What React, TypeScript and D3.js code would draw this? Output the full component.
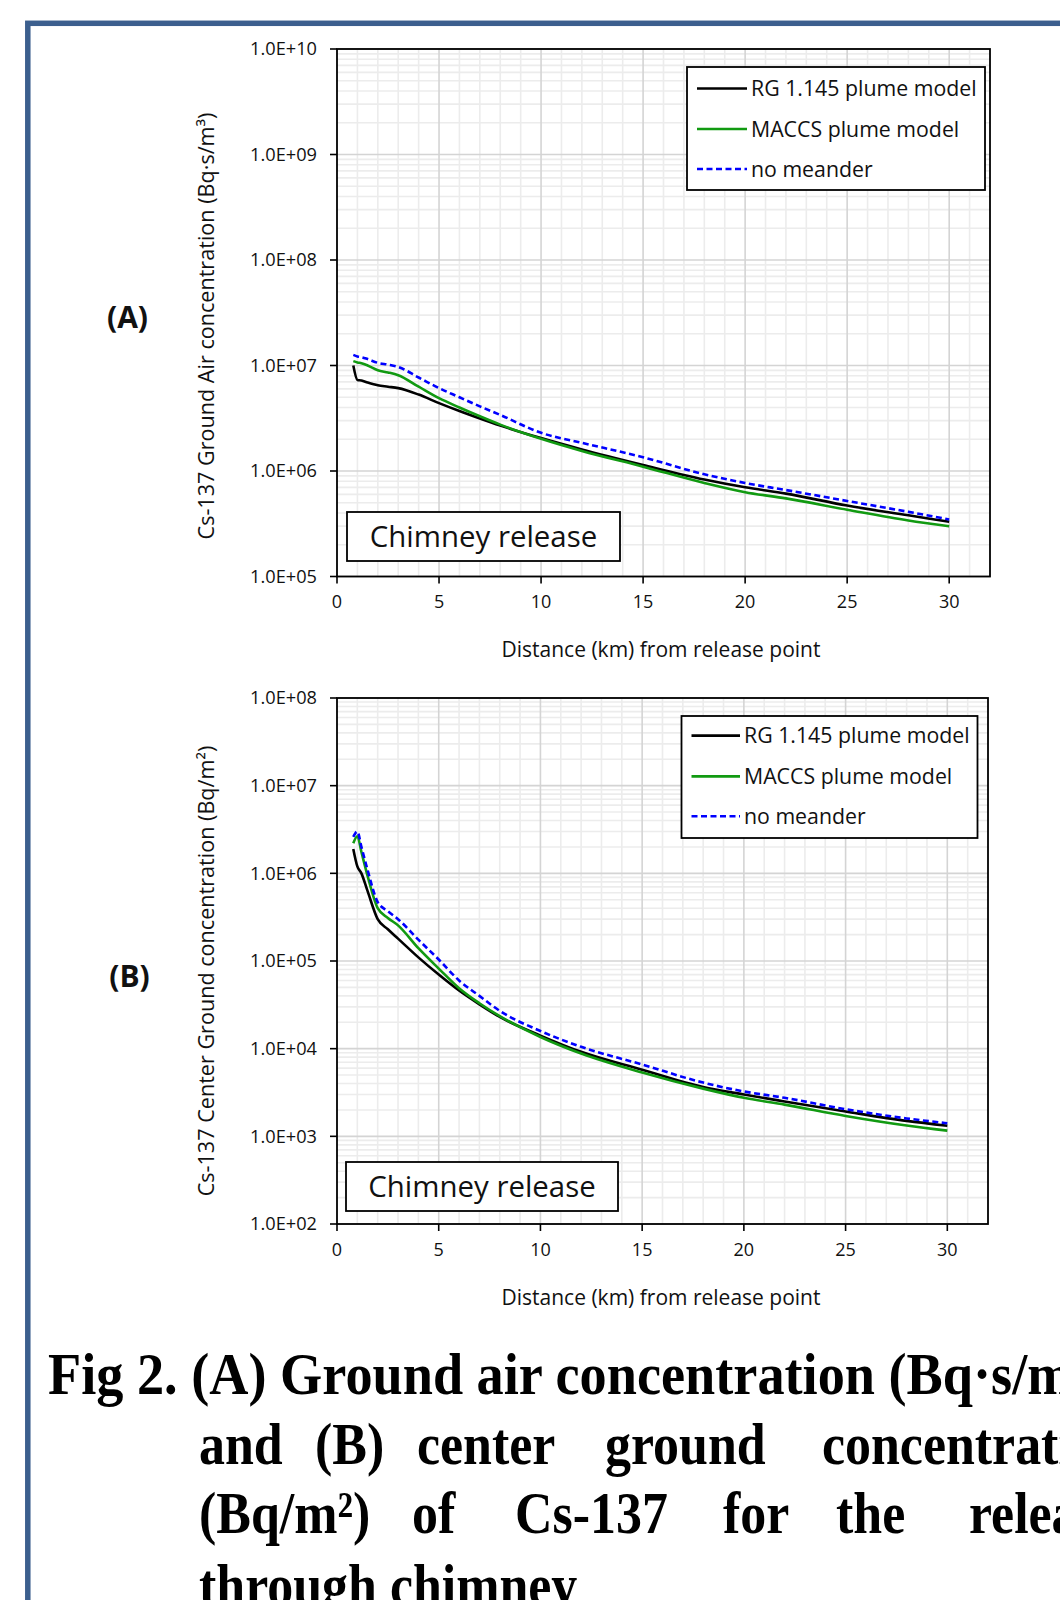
import * as d3 from "d3";
import React from "react";

// distances (km) shared by both panels
const distKm = [0.8, 1.0, 1.2, 1.5, 2, 2.5, 3, 4, 5, 6, 7, 8, 10, 12, 15, 18, 20, 22, 25, 28, 30];

// (A) ground air concentration, Bq·s/m3
const airRG = [1.0e7, 7.3e6, 7.2e6, 6.9e6, 6.5e6, 6.3e6, 6.1e6, 5.3e6, 4.4e6, 3.7e6, 3.15e6, 2.7e6, 2.05e6, 1.6e6, 1.14e6, 8.3e5, 7.0e5, 6.1e5, 4.7e5, 3.8e5, 3.3e5];
const airMACCS = [1.1e7, 1.07e7, 1.05e7, 1.0e7, 9.0e6, 8.6e6, 8.1e6, 6.3e6, 4.9e6, 4.0e6, 3.3e6, 2.75e6, 2.02e6, 1.55e6, 1.1e6, 7.7e5, 6.3e5, 5.5e5, 4.3e5, 3.4e5, 3.0e5];
const airNoMeander = [1.26e7, 1.22e7, 1.2e7, 1.15e7, 1.06e7, 1.02e7, 9.7e6, 7.7e6, 6.1e6, 5.0e6, 4.1e6, 3.4e6, 2.3e6, 1.85e6, 1.35e6, 9.3e5, 7.7e5, 6.6e5, 5.2e5, 4.1e5, 3.47e5];

// (B) center ground concentration, Bq/m2
const groundRG = [1.9e6, 1.2e6, 1.0e6, 6.3e5, 3.0e5, 2.3e5, 1.8e5, 1.1e5, 7.0e4, 4.6e4, 3.2e4, 2.3e4, 1.41e4, 9.2e3, 5.75e3, 3.65e3, 3.0e3, 2.5e3, 1.92e3, 1.5e3, 1.32e3];
const groundMACCS = [2.2e6, 2.65e6, 1.75e6, 9.4e5, 4.0e5, 3.1e5, 2.55e5, 1.4e5, 8.2e4, 4.9e4, 3.3e4, 2.35e4, 1.36e4, 8.8e3, 5.35e3, 3.5e3, 2.75e3, 2.3e3, 1.71e3, 1.33e3, 1.16e3];
const groundNoMeander = [2.6e6, 3.0e6, 2.0e6, 1.1e6, 4.7e5, 3.7e5, 3.0e5, 1.75e5, 1.04e5, 6.0e4, 4.0e4, 2.7e4, 1.59e4, 1.05e4, 6.6e3, 4.1e3, 3.25e3, 2.75e3, 2.04e3, 1.6e3, 1.41e3];

const seriesNames = ["RG 1.145 plume model", "MACCS plume model", "no meander"];
const xTicks = [0, 5, 10, 15, 20, 25, 30];

const FONT = "'Open Sans', sans-serif";
const SERIF = "'Liberation Serif', 'Times New Roman', serif";
const styles = [
  { stroke: "#000000", dash: undefined },
  { stroke: "#119a11", dash: undefined },
  { stroke: "#0000ff", dash: "6,3.5" },
];

function Panel(props) {
  const { p, values } = props;
  const x = d3.scaleLinear().domain([0, 32]).range([p.x0, p.x1]);
  const y = d3.scaleLog().domain(p.yDomain).range([p.y1, p.y0]);
  const lo = Math.round(Math.log10(p.yDomain[0]));
  const hi = Math.round(Math.log10(p.yDomain[1]));
  const decades = d3.range(lo, hi + 1);
  const minors = [];
  for (let e = lo; e < hi; e++) for (let m = 2; m <= 9; m++) minors.push(m * Math.pow(10, e));
  const kmMinor = d3.range(1, 32).filter((k) => k % 5 !== 0);

  const line = d3
    .line()
    .x((d) => x(d[0]))
    .y((d) => y(d[1]))
    .curve(d3.curveMonotoneX);

  return (
    <g>
      {/* minor grid */}
      {kmMinor.map((k) => (
        <line key={"vx" + k} x1={x(k)} x2={x(k)} y1={p.y0} y2={p.y1} stroke="#ececec" strokeWidth={1.6} />
      ))}
      {minors.map((v, i) => (
        <line key={"hm" + i} x1={p.x0} x2={p.x1} y1={y(v)} y2={y(v)} stroke="#ececec" strokeWidth={1.6} />
      ))}
      {/* major grid */}
      {xTicks.slice(1).map((k) => (
        <line key={"vX" + k} x1={x(k)} x2={x(k)} y1={p.y0} y2={p.y1} stroke="#d4d4d4" strokeWidth={1.6} />
      ))}
      {decades.map((e) => (
        <line key={"hM" + e} x1={p.x0} x2={p.x1} y1={y(Math.pow(10, e))} y2={y(Math.pow(10, e))} stroke="#d4d4d4" strokeWidth={1.6} />
      ))}

      {/* plot border / axes */}
      <rect x={p.x0} y={p.y0} width={p.x1 - p.x0} height={p.y1 - p.y0} fill="none" stroke="#000" strokeWidth={1.8} />

      {/* y ticks */}
      {decades.map((e) => {
        const yy = y(Math.pow(10, e));
        return (
          <g key={"yt" + e}>
            <line x1={p.x0 - 7} x2={p.x0} y1={yy} y2={yy} stroke="#000" strokeWidth={1.6} />
            <text x={317} y={yy} dy="0.35em" fontSize={18.2} textAnchor="end" fontFamily={FONT} fill="#111">
              {`1.0E+${String(e).padStart(2, "0")}`}
            </text>
          </g>
        );
      })}

      {/* x ticks */}
      {xTicks.map((k) => (
        <g key={"xt" + k}>
          <line x1={x(k)} x2={x(k)} y1={p.y1} y2={p.y1 + 7} stroke="#000" strokeWidth={1.6} />
          <text x={x(k)} y={p.tickY} dy="0.35em" fontSize={18} textAnchor="middle" fontFamily={FONT} fill="#111">
            {k}
          </text>
        </g>
      ))}

      {/* lines */}
      {values.map((vals, i) => (
        <path
          key={"s" + i}
          d={line(distKm.map((k, j) => [k, vals[j]]))}
          fill="none"
          stroke={styles[i].stroke}
          strokeWidth={2.6}
          strokeDasharray={styles[i].dash}
        />
      ))}

      {/* legend */}
      <rect x={p.leg.x} y={p.leg.y} width={p.leg.w} height={p.leg.h} fill="#fff" stroke="#000" strokeWidth={1.8} />
      {seriesNames.map((name, i) => (
        <g key={"lg" + i}>
          <line
            x1={p.leg.lx0}
            x2={p.leg.lx1}
            y1={p.leg.rows[i]}
            y2={p.leg.rows[i]}
            stroke={styles[i].stroke}
            strokeWidth={2.6}
            strokeDasharray={styles[i].dash}
          />
          <text x={p.leg.lx1 + 4} y={p.leg.rows[i]} dy="0.36em" fontSize={21.3} fontFamily={FONT} fill="#111">
            {name}
          </text>
        </g>
      ))}

      {/* chimney box */}
      <rect x={p.box.x} y={p.box.y} width={p.box.w} height={p.box.h} fill="#fff" stroke="#000" strokeWidth={1.8} />
      <text x={p.box.x + p.box.w / 2} y={p.box.y + p.box.h / 2} dy="0.36em" fontSize={29.4} textAnchor="middle" fontFamily={FONT} fill="#111">
        Chimney release
      </text>

      {/* axis titles */}
      <text x={661} y={p.xTitleY} dy="0.35em" fontSize={21} textAnchor="middle" fontFamily={FONT} fill="#111">
        Distance (km) from release point
      </text>
      <text
        transform={`translate(206,${p.yTitleY}) rotate(-90)`}
        dy="0.35em"
        fontSize={21.6}
        textAnchor="middle"
        fontFamily={FONT}
        fill="#111"
      >
        {p.yTitle}
      </text>
      <text x={p.tag.x} y={p.tag.y} dy="0.35em" fontSize={30} fontWeight="bold" textAnchor="middle" fontFamily={FONT} fill="#111">
        {p.tag.text}
      </text>
    </g>
  );
}

const panelA = {
  x0: 337, x1: 990, y0: 49, y1: 576.5,
  yDomain: [1e5, 1e10],
  tickY: 602, xTitleY: 650, yTitleY: 326,
  yTitle: "Cs-137 Ground Air concentration (Bq·s/m³)",
  tag: { text: "(A)", x: 127.5, y: 317 },
  leg: { x: 687, y: 67, w: 298, h: 123, lx0: 697, lx1: 747, rows: [88.5, 129, 169] },
  box: { x: 347, y: 512, w: 273, h: 49 },
};

const panelB = {
  x0: 337, x1: 988, y0: 698, y1: 1224,
  yDomain: [1e2, 1e8],
  tickY: 1250, xTitleY: 1298, yTitleY: 971,
  yTitle: "Cs-137 Center Ground concentration (Bq/m²)",
  tag: { text: "(B)", x: 129.5, y: 976 },
  leg: { x: 681.5, y: 716, w: 296, h: 122, lx0: 691.5, lx1: 740, rows: [735.6, 776.4, 816.2] },
  box: { x: 346, y: 1162, w: 272, h: 49 },
};

// caption lines: [word, x]
const captionLine2 = [["and", 199], ["(B)", 315], ["center", 417], ["ground", 605], ["concentration", 822]];
const captionLine3 = [["(Bq/m²)", 199], ["of", 412], ["Cs-137", 515], ["for", 723], ["the", 836], ["release", 969]];

function Word({ text, x, y, sx = 0.88 }) {
  return (
    <text
      transform={`translate(${x},${y}) scale(${sx},1)`}
      fontSize={59}
      fontWeight="bold"
      fontFamily={SERIF}
      fill="#000"
    >
      {text}
    </text>
  );
}

export default function App() {
  return (
    <svg
      width={1060}
      height={1600}
      style={{ position: "absolute", left: 0, top: 0, background: "#fff" }}
    >
      <rect x={0} y={0} width={1060} height={1600} fill="#fff" />
      <rect x={27.8} y={23.3} width={1200} height={1800} fill="none" stroke="#3c5f8e" strokeWidth={5.5} />

      <Panel p={panelA} values={[airRG, airMACCS, airNoMeander]} />
      <Panel p={panelB} values={[groundRG, groundMACCS, groundNoMeander]} />

      <Word text="Fig 2. (A) Ground air concentration (Bq·s/m³)" x={48} y={1394} sx={0.92} />
      {captionLine2.map(([w, x]) => (
        <Word key={"c2" + w} text={w} x={x} y={1464} />
      ))}
      {captionLine3.map(([w, x]) => (
        <Word key={"c3" + w} text={w} x={x} y={1533} />
      ))}
      <Word text="through chimney" x={199} y={1605} />
    </svg>
  );
}
